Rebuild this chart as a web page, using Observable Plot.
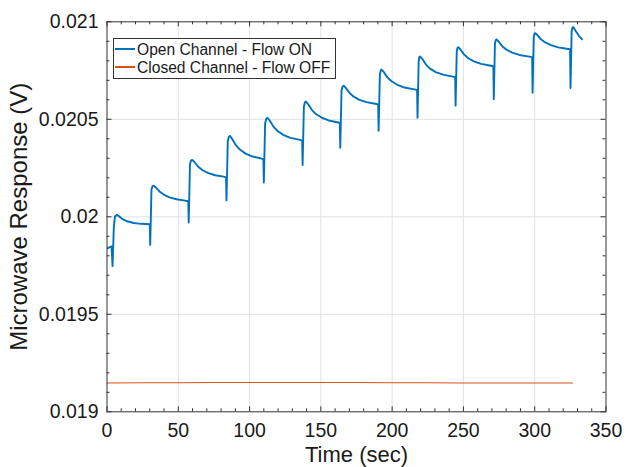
<!DOCTYPE html>
<html>
<head>
<meta charset="utf-8">
<script src="https://cdn.jsdelivr.net/npm/d3@7"></script>
<script src="https://cdn.jsdelivr.net/npm/@observablehq/plot@0.6"></script>
<style>
html,body{margin:0;padding:0;background:#fff;}
#wrap{position:relative;width:627px;height:467px;font-family:"Liberation Sans",Arial,Helvetica,sans-serif;}
#legend{position:absolute;left:113px;top:38px;width:223px;height:41px;border:1px solid #333;background:#fff;box-sizing:border-box;font-size:15.6px;color:#1a1a1a;}
.row{position:absolute;left:1px;height:15px;display:flex;align-items:center;white-space:nowrap;}
.sw{display:inline-block;width:20px;height:2px;margin-right:2px;}
.tx{display:inline-block;height:15px;line-height:15px;}
</style>
</head>
<body>
<div id="wrap"></div>
<script>
// ---- data ----
const xLabel = "Time (sec)";
const yLabel = "Microwave Response (V)";
const seriesNames = ["Open Channel - Flow ON", "Closed Channel - Flow OFF"];
const seriesColors = ["#0072BD", "#D95319"];
const xMajorTicks = [0, 50, 100, 150, 200, 250, 300, 350];
const xMinorTicks = [10,20,30,40,60,70,80,90,110,120,130,140,160,170,180,190,210,220,230,240,260,270,280,290,310,320,330,340];
const yMajorTicks = [0.019, 0.0195, 0.02, 0.0205, 0.021];
const yMinorTicks = [0.0191,0.0192,0.0193,0.0194,0.0196,0.0197,0.0198,0.0199,0.0201,0.0202,0.0203,0.0204,0.0206,0.0207,0.0208,0.0209];

// Open channel (flow ON): [time, volts]
const openChannel = [
  [0.5,0.019839],[3.2,0.019848],[3.9,0.019747],[4.8,0.01995],[5.6,0.020002],[7.1,0.02001],
  [8.6,0.020002],[11,0.019988],[14,0.019977],[18.8,0.019968],[24,0.019964],[30,0.019962],
  [30.3,0.019856],[31.2,0.02014],[31.9,0.020157],[32.8,0.02016],[34.3,0.02015],[36.8,0.02013],[39.8,0.020114],[43.8,0.0201],[48.8,0.02009],[54.8,0.020083],[57,0.02008],
  [57.3,0.019971],[58.2,0.020269],[58.9,0.020288],[59.8,0.020292],[61.3,0.020281],[63.8,0.020258],[66.8,0.02024],[70.8,0.020225],[75.8,0.020213],[81.8,0.020206],[83.5,0.020202],
  [83.8,0.020084],[84.7,0.020385],[85.4,0.02041],[86.2,0.020415],[87.7,0.0204],[90.2,0.020369],[93.2,0.020345],[97.2,0.020324],[102.2,0.020309],[108.2,0.020299],[109.7,0.020294],
  [110,0.020176],[110.9,0.020479],[111.7,0.020503],[112.6,0.020508],[114.1,0.020494],[116.6,0.020464],[119.6,0.02044],[123.6,0.02042],[128.6,0.020405],[134.6,0.020396],[136.9,0.020391],
  [137.2,0.020266],[138.1,0.020564],[138.8,0.020587],[139.5,0.020591],[141,0.020578],[143.5,0.02055],[146.5,0.020527],[150.5,0.020509],[155.5,0.020494],[161.5,0.020485],[163.3,0.020481],
  [163.6,0.020354],[164.5,0.020648],[165.2,0.020668],[166,0.020672],[167.5,0.020661],[170,0.020636],[173,0.020616],[177,0.0206],[182,0.020588],[188,0.02058],[190.2,0.020576],
  [190.5,0.020441],[191.4,0.020729],[192,0.020751],[192.6,0.020755],[194.1,0.020743],[196.6,0.020715],[199.6,0.020695],[203.6,0.020677],[208.6,0.020663],[214.6,0.020655],[217.5,0.020651],
  [217.8,0.020508],[218.6,0.020796],[219,0.020818],[219.6,0.020822],[221.1,0.02081],[223.6,0.020782],[226.6,0.02076],[230.6,0.020742],[235.6,0.020729],[241.6,0.02072],[244.2,0.020716],
  [244.5,0.02057],[245.3,0.020846],[245.8,0.020866],[246.4,0.02087],[247.9,0.020858],[250.4,0.020833],[253.4,0.020813],[257.4,0.020797],[262.4,0.020784],[268.4,0.020776],[271,0.020772],
  [271.3,0.020603],[272.1,0.020887],[272.6,0.020906],[273.2,0.02091],[274.7,0.020899],[277.2,0.020875],[280.2,0.020857],[284.2,0.020842],[289.2,0.02083],[295.2,0.020823],[298.2,0.020819],
  [298.5,0.020636],[299.3,0.020921],[299.8,0.020939],[300.4,0.020942],[301.9,0.020932],[304.4,0.02091],[307.4,0.020894],[311.4,0.02088],[316.4,0.020869],[322.4,0.020862],[324.8,0.020859],
  [325.1,0.02066],[325.9,0.02095],[326.4,0.020969],[327,0.020973],[328.5,0.020955],[331,0.020928],[333.2,0.02091]
];

// Closed channel (flow OFF): [time, volts]
const closedChannel = [
  [0,0.019148],[25,0.019149],[50,0.019149],[75,0.01915],[100,0.01915],[125,0.01915],[150,0.01915],
  [175,0.01915],[200,0.019149],[225,0.019149],[250,0.019148],[275,0.019148],[300,0.019148],[326.6,0.019148]
];

// ---- chart ----
const W = 627, H = 467;
const mL = 106.5, mR = 21.5, mT = 21.3, mB = 55.7;
const plotH = H - mT - mB, plotW = W - mL - mR;
const majorLen = 5, minorLen = 3;
const axisColor = "#333333";
const fontFamily = '"Liberation Sans", Arial, Helvetica, sans-serif';

const tickMarks = (ticks, len) => [
  Plot.ruleX(ticks, {insetTop: plotH - len, stroke: axisColor}),
  Plot.ruleX(ticks, {insetBottom: plotH - len, stroke: axisColor})
];
const tickMarksY = (ticks, len) => [
  Plot.ruleY(ticks, {insetRight: plotW - len, stroke: axisColor}),
  Plot.ruleY(ticks, {insetLeft: plotW - len, stroke: axisColor})
];

const chart = Plot.plot({
  width: W, height: H,
  marginLeft: mL, marginRight: mR, marginTop: mT, marginBottom: mB,
  style: {fontFamily, fontSize: "19.5px", color: "#262626", background: "#fff"},
  x: {domain: [0, 350]},
  y: {domain: [0.019, 0.021]},
  marks: [
    Plot.gridX(xMajorTicks.slice(1, -1), {stroke: "#e2e2e2", strokeOpacity: 1}),
    Plot.gridY(yMajorTicks.slice(1, -1), {stroke: "#e2e2e2", strokeOpacity: 1}),
    Plot.line(closedChannel, {x: d => d[0], y: d => d[1], stroke: seriesColors[1], strokeWidth: 1.1}),
    Plot.line(openChannel, {x: d => d[0], y: d => d[1], stroke: seriesColors[0], strokeWidth: 1.9}),
    ...tickMarks(xMajorTicks, majorLen),
    ...tickMarks(xMinorTicks, minorLen),
    ...tickMarksY(yMajorTicks, majorLen),
    ...tickMarksY(yMinorTicks, minorLen),
    Plot.frame({stroke: axisColor}),
    Plot.axisX(xMajorTicks, {tickSize: 0, tickPadding: 11, tickFormat: d => String(d), label: null, fill: "#1a1a1a"}),
    Plot.axisY(yMajorTicks, {tickSize: 0, tickPadding: 8.5, tickFormat: d => String(d), label: null, fill: "#1a1a1a"}),
    Plot.text([xLabel], {frameAnchor: "bottom", dy: 43.6, text: d => d, fontSize: 22, textAnchor: "middle", lineAnchor: "middle", fill: "#1a1a1a"}),
    Plot.text([yLabel], {frameAnchor: "left", dx: -87.7, rotate: -90, text: d => d, fontSize: 24, textAnchor: "middle", lineAnchor: "middle", fill: "#1a1a1a"})
  ]
});

const wrap = document.getElementById("wrap");
wrap.appendChild(chart);

// legend overlay inside the plot box
const legend = document.createElement("div");
legend.id = "legend";
seriesNames.forEach((name, i) => {
  const row = document.createElement("div");
  row.className = "row";
  row.style.top = (i === 0 ? 2.5 : 20.8) + "px";
  const sw = document.createElement("span");
  sw.className = "sw";
  sw.style.background = seriesColors[i];
  const tx = document.createElement("span");
  tx.className = "tx";
  tx.textContent = name;
  row.appendChild(sw);
  row.appendChild(tx);
  legend.appendChild(row);
});
wrap.appendChild(legend);
</script>
</body>
</html>
